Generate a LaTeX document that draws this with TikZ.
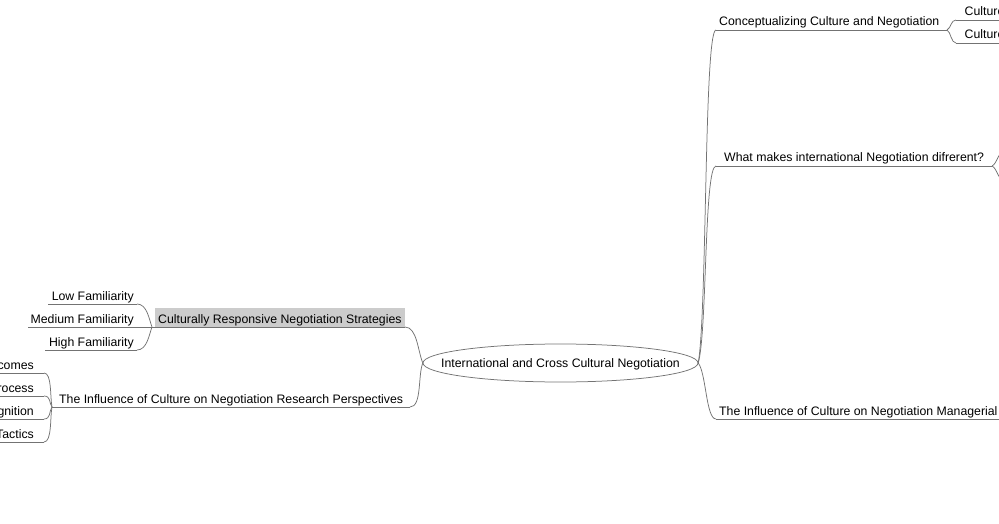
\documentclass[tikz,border=0pt]{standalone}
\usepackage{fontspec}
\setmainfont{Liberation Sans}
\begin{document}
\begin{tikzpicture}[x=1pt,y=-1pt,
  conn/.style={draw=black!55, line width=0.75pt},
  txt/.style={inner sep=0pt, font=\fontsize{12.3}{14}\selectfont, text=black},
  rootnode/.style={rectangle, inner sep=0pt, minimum width=275pt, minimum height=38pt,
    text height=8.6pt, text depth=0pt,
    font=\fontsize{12.3}{14}\selectfont, text=black}]
\useasboundingbox (0,0) rectangle (999,524);
\clip (0,0) rectangle (999,524);

% root
\node[rootnode] (root) at (560.5,363) {International and Cross Cultural Negotiation};
\draw[conn] (root.center) ellipse [x radius=137.5pt, y radius=19pt];

% ---------- right side ----------
\coordinate (aS) at (716,30);  \coordinate (aE) at (947,30);
\coordinate (bS) at (716,166); \coordinate (bE) at (992,166);
\coordinate (cS) at (716,419); \coordinate (cE) at (1005,419);
\node[txt, anchor=base west] (a) at (719,26) {Conceptualizing Culture and Negotiation};
\node[txt, anchor=base west] (b) at (724,162) {What makes international Negotiation difrerent?};
\node[txt, anchor=base west] (c) at (719,415) {The Influence of Culture on Negotiation Managerial Perspectives};
\draw[conn] (aS) -- (aE);
\draw[conn] (bS) -- (bE);
\draw[conn] (cS) -- (cE);
\draw[conn] (root.east) .. controls +(9,-50) and +(-12,0) .. (aS);
\draw[conn] (root.east) .. controls +(9,-30) and +(-12,0) .. (bS);
\draw[conn] (root.east) .. controls +(8,10) and +(-10,0) .. (cS);

% children of Conceptualizing
\coordinate (a1S) at (956,20); \coordinate (a1E) at (1005,20);
\coordinate (a2S) at (956,43); \coordinate (a2E) at (1005,43);
\node[txt, anchor=base west] (a1) at (964.5,16) {Culture};
\node[txt, anchor=base west] (a2) at (964.5,39) {Culture};
\draw[conn] (a1S) -- (a1E);
\draw[conn] (a2S) -- (a2E);
\draw[conn] (aE) .. controls +(4,-2) and +(-5,0) .. (a1S);
\draw[conn] (aE) .. controls +(4,2) and +(-5,0) .. (a2S);

% children of What makes
\coordinate (b1S) at (1005,150);
\coordinate (b2S) at (1005,182);
\draw[conn] (bE) .. controls +(5,-2) and +(-6,0) .. (b1S);
\draw[conn] (bE) .. controls +(5,2) and +(-6,0) .. (b2S);

% ---------- left side ----------
\fill[gray!40] (155,308) rectangle (405,327);
\coordinate (dS) at (152,327); \coordinate (dE) at (405,327);
\coordinate (eS) at (52,407);  \coordinate (eE) at (410,407);
\node[txt, anchor=base west] (d) at (158,323.5) {Culturally Responsive Negotiation Strategies};
\node[txt, anchor=base west] (e) at (59,403.5) {The Influence of Culture on Negotiation Research Perspectives};
\draw[conn] (dS) -- (dE);
\draw[conn] (eS) -- (eE);
\draw[conn] (dE) .. controls +(12,0) and +(-5,-12) .. (root.west);
\draw[conn] (eE) .. controls +(12,0) and +(-5,12) .. (root.west);

% children of Culturally Responsive
\coordinate (d1S) at (48,304);  \coordinate (d1E) at (137,304);
\coordinate (d2S) at (28,327);
\coordinate (d3S) at (45,350);  \coordinate (d3E) at (137,350);
\node[txt, anchor=base east] (d1) at (134,300.5) {Low Familiarity};
\node[txt, anchor=base east] (d2) at (134,323.5) {Medium Familiarity};
\node[txt, anchor=base east] (d3) at (134,346.5) {High Familiarity};
\draw[conn] (d1S) -- (d1E);
\draw[conn] (d2S) -- (dS);
\draw[conn] (d3S) -- (d3E);
\draw[conn] (d1E) .. controls +(10,0) and +(-3,-8) .. (dS);
\draw[conn] (d3E) .. controls +(10,0) and +(-3,8) .. (dS);

% children of Research Perspectives
\coordinate (e1S) at (-10,373); \coordinate (e1E) at (44,373);
\coordinate (e2S) at (-10,396); \coordinate (e2E) at (44,396);
\coordinate (e3S) at (-10,419); \coordinate (e3E) at (44,419);
\coordinate (e4S) at (-10,442); \coordinate (e4E) at (44,442);
\node[txt, anchor=base east] (e1) at (34,369.5) {Outcomes};
\node[txt, anchor=base east] (e2) at (34,392.5) {Process};
\node[txt, anchor=base east] (e3) at (34,415.5) {Cognition};
\node[txt, anchor=base east] (e4) at (34,438.5) {Tactics};
\draw[conn] (e1S) -- (e1E);
\draw[conn] (e2S) -- (e2E);
\draw[conn] (e3S) -- (e3E);
\draw[conn] (e4S) -- (e4E);
\draw[conn] (e1E) .. controls +(8,0) and +(-2,-10) .. (eS);
\draw[conn] (e2E) .. controls +(7,0) and +(-3,-4) .. (eS);
\draw[conn] (e3E) .. controls +(7,0) and +(-3,4) .. (eS);
\draw[conn] (e4E) .. controls +(8,0) and +(-2,10) .. (eS);
\end{tikzpicture}
\end{document}
